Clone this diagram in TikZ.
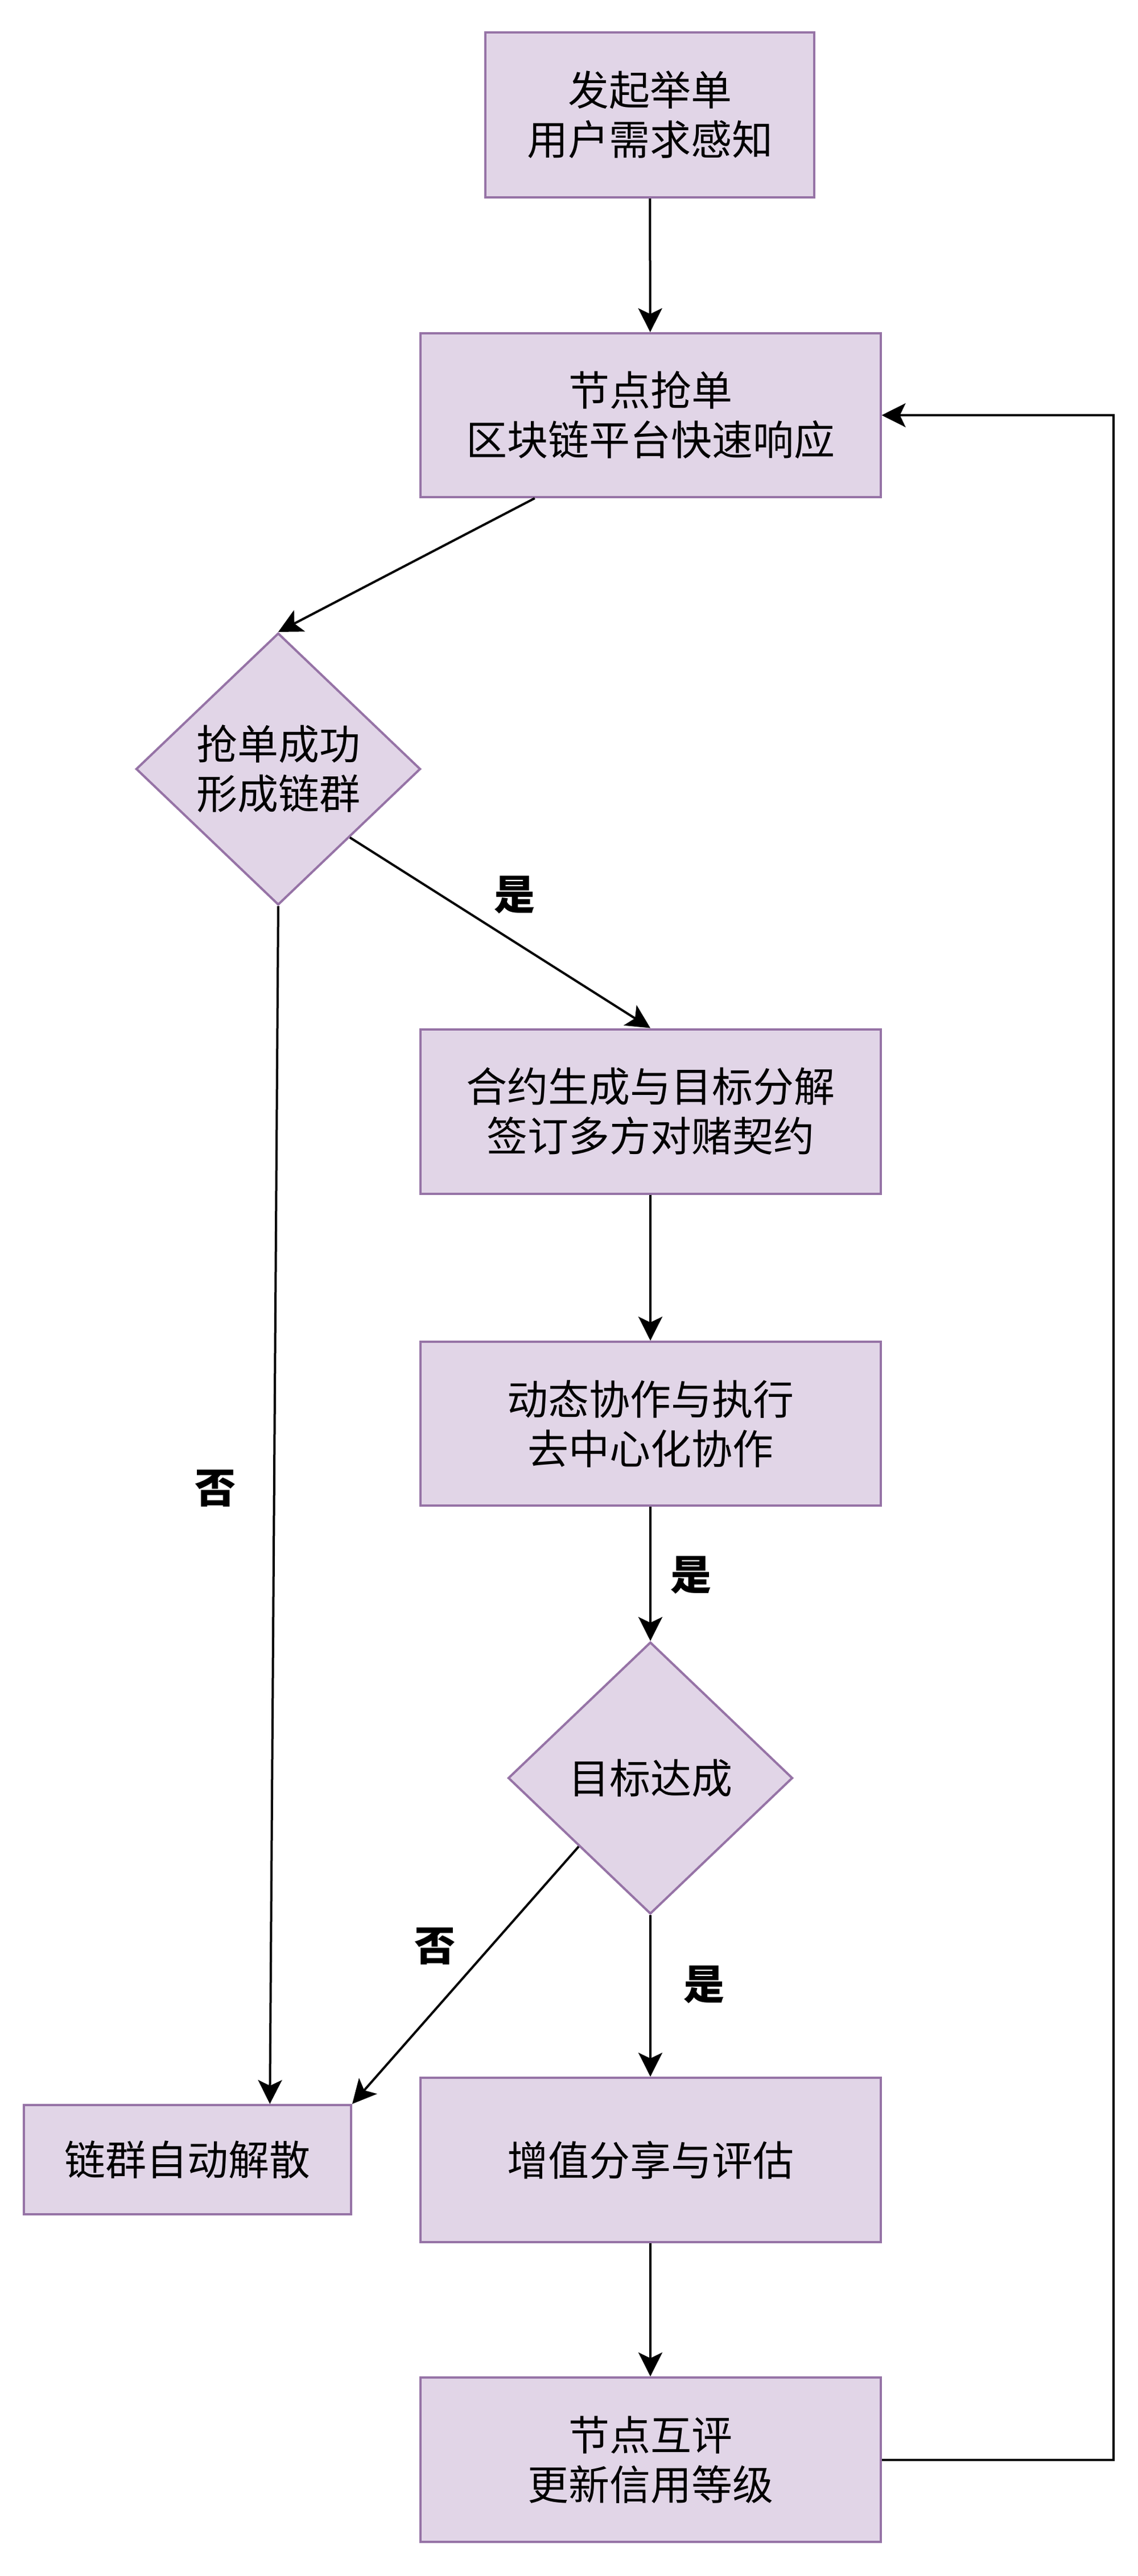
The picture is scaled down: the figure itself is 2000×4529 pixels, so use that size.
\documentclass[tikz,border=0pt]{standalone}
\usepackage{fontspec}
\setmainfont{Noto Sans CJK SC}
\usetikzlibrary{arrows.meta,shapes.geometric,calc}
\definecolor{pfill}{HTML}{E1D5E7}
\definecolor{pdraw}{HTML}{9673A6}
\tikzset{
  stepbox/.style={rectangle,draw=pdraw,fill=pfill,line width=2pt,align=center,
    inner sep=0pt,font=\fontsize{36}{43.5}\selectfont},
  decide/.style={diamond,draw=pdraw,fill=pfill,line width=2pt,align=center,
    inner sep=0pt,minimum width=250pt,minimum height=239pt,font=\fontsize{36}{43.5}\selectfont},
  arr/.style={line width=2pt,-{Stealth[length=21pt,width=21pt,inset=5pt]}},
  lbl/.style={font=\bfseries\fontsize{36}{43}\selectfont,inner sep=0pt}
}
\begin{document}
\begin{tikzpicture}[x=0.5pt,y=-0.5pt]
\fill[white] (0,0) rectangle (2000,4529);
\useasboundingbox (0,0) rectangle (2000,4529);

\node[stepbox,minimum width=289pt,minimum height=145pt] (b1) at (1142,202) {发起举单\\用户需求感知};
\node[stepbox,minimum width=404.5pt,minimum height=144pt] (b2) at (1143,730) {节点抢单\\区块链平台快速响应};
\node[decide] (d1) at (489,1352) {抢单成功\\形成链群};
\node[stepbox,minimum width=404.5pt,minimum height=144.5pt] (b3) at (1143,1954) {合约生成与目标分解\\签订多方对赌契约};
\node[stepbox,minimum width=404.5pt,minimum height=144pt] (b4) at (1143,2503) {动态协作与执行\\去中心化协作};
\node[decide] (d2) at (1143,3126) {目标达成};
\node[stepbox,minimum width=287.5pt,minimum height=96pt] (b5) at (329.5,3797) {链群自动解散};
\node[stepbox,minimum width=404.5pt,minimum height=144.5pt] (b6) at (1143,3797.5) {增值分享与评估};
\node[stepbox,minimum width=404.5pt,minimum height=144.5pt] (b7) at (1143,4324.5) {节点互评\\更新信用等级};

\node[lbl] (l1) at (904,1573) {是};
\node[lbl] (l2) at (378,2617) {否};
\node[lbl] (l3) at (1214,2769) {是};
\node[lbl] (l4) at (764,3422) {否};
\node[lbl] (l5) at (1237,3489) {是};

\coordinate (loop) at (1957,730);

\draw[arr] (b1) -- (b2);
\draw[arr] ($(b2.south west)!0.25!(b2.south east)$) -- (d1.north);
\draw[arr] ($(d1.east)!0.5!(d1.south)$) -- (b3.north);
\draw[arr] (d1.south) -- ($(b5.north west)!0.75!(b5.north east)$);
\draw[arr] (b3) -- (b4);
\draw[arr] (b4) -- (d2);
\draw[arr] ($(d2.west)!0.5!(d2.south)$) -- (b5.north east);
\draw[arr] (d2) -- (b6);
\draw[arr] (b6) -- (b7);
\draw[arr] (b7.east) -| (loop) -- (b2.east);
\end{tikzpicture}
\end{document}
